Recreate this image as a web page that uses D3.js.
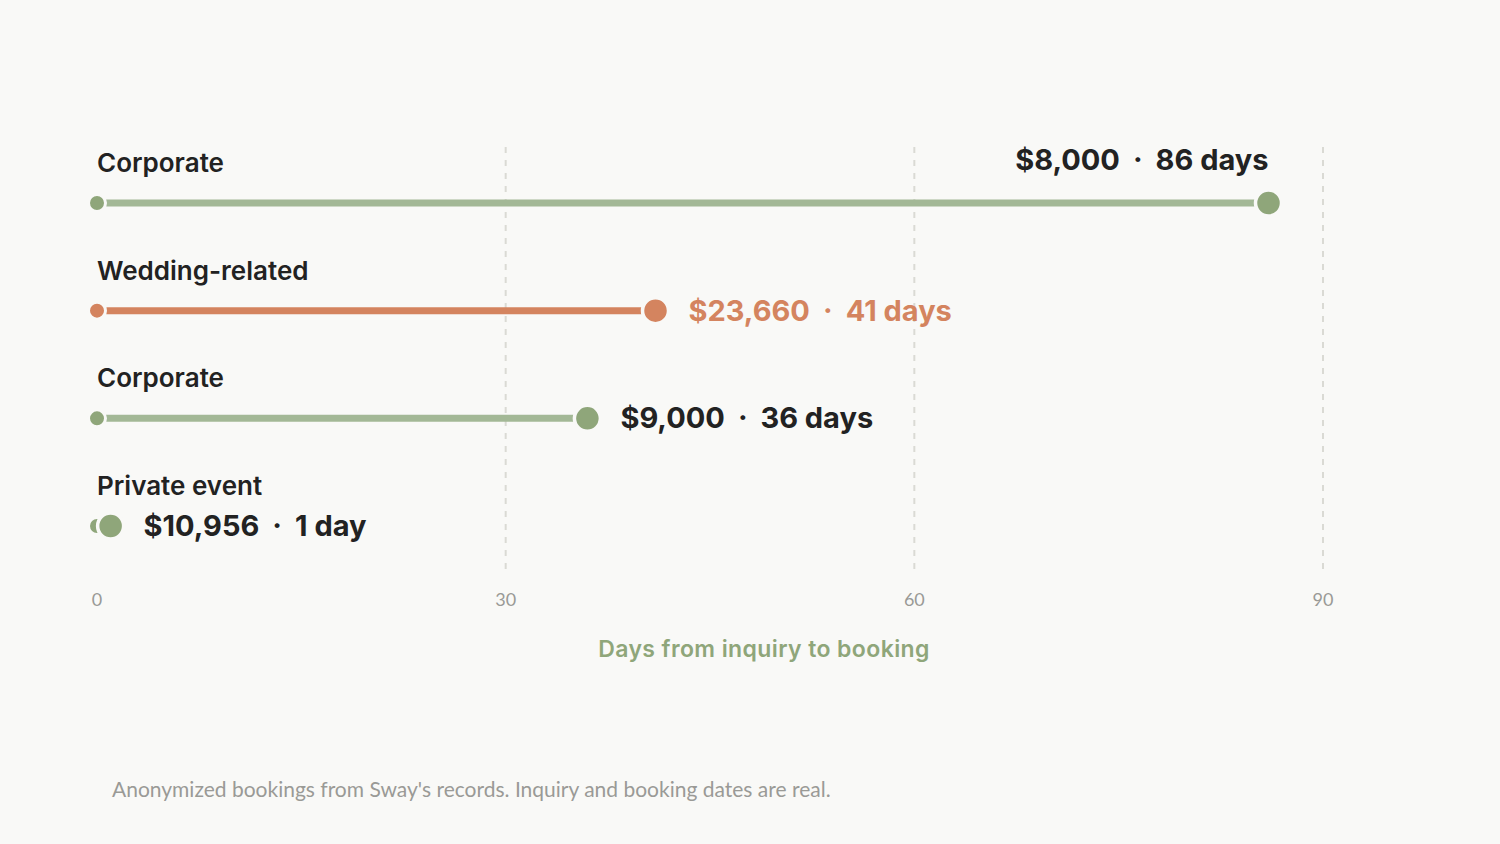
<!DOCTYPE html>
<head>
  <meta charset="utf-8">
  <script src="https://d3js.org/d3.v7.min.js"></script>
  <style>
    body { margin: 0; background: #f9f9f7; }
    svg { display: block; }
    .cat { font-family: Inter, "Open Sans", sans-serif; font-weight: 600; font-size: 26px; fill: #222; }
    .val { font-family: Inter, "Open Sans", sans-serif; font-weight: 700; font-size: 29px; }
    .tick-label { font-family: Lato, "Noto Sans", sans-serif; font-size: 18px; fill: #9a9a96; }
    .axis-title { font-family: Inter, "Open Sans", sans-serif; font-weight: 600; font-size: 23px; letter-spacing: 0.4px; fill: #8fa67a; }
    .note { font-family: Lato, "Noto Sans", sans-serif; font-size: 21px; fill: #9a9a96; }
  </style>
</head>
<body>
  <script>
    // data
    const categories = ["Corporate", "Wedding-related", "Corporate", "Private event"];
    const amounts = ["$8,000", "$23,660", "$9,000", "$10,956"];
    const days = [86, 41, 36, 1];
    const highlighted = [false, true, false, false];
    const xTicks = [0, 30, 60, 90];

    const W = 1500, H = 844;
    const bg = "#f9f9f7";
    const green = "#8fa67a", greenLine = "#a3b896";
    const orange = "#d4845f";
    const dark = "#222";

    const x = d3.scaleLinear().domain([0, 90]).range([97, 1323]);
    const y = d3.scalePoint().domain(d3.range(categories.length)).range([203, 526]);

    const svg = d3.select("body").append("svg")
        .attr("width", W)
        .attr("height", H)
        .style("background", bg);

    // grid
    svg.append("g").selectAll("line")
        .data(xTicks.slice(1))
        .enter().append("line")
        .attr("x1", d => x(d)).attr("x2", d => x(d))
        .attr("y1", 147).attr("y2", 570)
        .attr("stroke", "#dadad4")
        .attr("stroke-width", 2)
        .attr("stroke-dasharray", "6,7");

    svg.append("g").selectAll("text")
        .data(xTicks)
        .enter().append("text")
        .attr("class", "tick-label")
        .attr("x", d => x(d))
        .attr("y", 606)
        .attr("text-anchor", "middle")
        .text(d => d);

    svg.append("text")
        .attr("class", "axis-title")
        .attr("x", 764)
        .attr("y", 657)
        .attr("text-anchor", "middle")
        .text("Days from inquiry to booking");

    const rows = svg.append("g").selectAll("g")
        .data(categories.map((c, i) => ({c, i, amt: amounts[i], d: days[i], hi: highlighted[i]})))
        .enter().append("g");

    rows.append("text")
        .attr("class", "cat")
        .attr("x", x(0))
        .attr("y", d => y(d.i) - 31)
        .text(d => d.c);

    rows.append("line")
        .attr("x1", x(0))
        .attr("x2", d => x(d.d))
        .attr("y1", d => y(d.i)).attr("y2", d => y(d.i))
        .attr("stroke", d => d.hi ? orange : greenLine)
        .attr("stroke-width", 7);

    rows.append("circle")
        .attr("cx", x(0))
        .attr("cy", d => y(d.i))
        .attr("r", 8.5)
        .attr("fill", d => d.hi ? orange : green)
        .attr("stroke", bg).attr("stroke-width", 3);

    rows.append("circle")
        .attr("cx", d => x(d.d))
        .attr("cy", d => y(d.i))
        .attr("r", 13)
        .attr("fill", d => d.hi ? orange : green)
        .attr("stroke", bg).attr("stroke-width", 3.5);

    const val = rows.append("text")
        .attr("class", "val")
        .attr("fill", d => d.hi ? orange : dark)
        .attr("text-anchor", d => d.d > 60 ? "end" : "start")
        .attr("x", d => d.d > 60 ? x(d.d) : x(d.d) + 33)
        .attr("y", d => d.d > 60 ? y(d.i) - 33 : y(d.i) + 10);
    val.append("tspan").text(d => d.amt);
    val.append("tspan").attr("dx", 13).text("·");
    val.append("tspan").attr("dx", 13).text(d => d.d + (d.d === 1 ? " day" : " days"));

    svg.append("text")
        .attr("class", "note")
        .attr("x", 112)
        .attr("y", 797)
        .text("Anonymized bookings from Sway's records. Inquiry and booking dates are real.");
  </script>
</body>
